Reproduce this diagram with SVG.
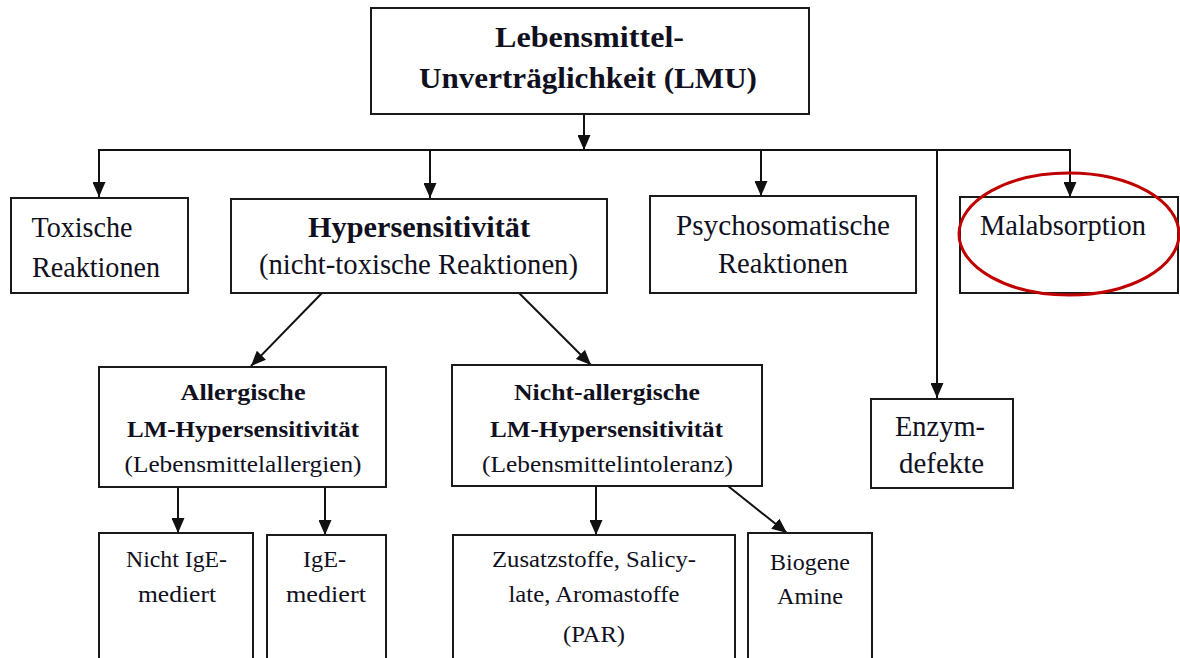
<svg xmlns="http://www.w3.org/2000/svg" width="1180" height="658" viewBox="0 0 1180 658">
<style>
.box{fill:#fff;stroke:#1a1a1a;stroke-width:2}
.t{font-family:"Liberation Serif","Times New Roman",serif;fill:#101020;text-anchor:middle}
.b{font-weight:bold}
.s27{font-size:29px}
.s22{font-size:23.5px}
.s21{font-size:22.5px}
.c{stroke:#111;stroke-width:2;fill:none}
</style>
<defs>
<marker id="ah" viewBox="0 0 15 13" refX="15" refY="6.5" markerWidth="15" markerHeight="13" markerUnits="userSpaceOnUse" orient="auto">
<path d="M0,0 L15,6.5 L0,13 z" fill="#111"/>
</marker>
</defs>
<rect width="1180" height="658" fill="#fff"/>
<g id="connectors">
<line class="c" x1="584" y1="114" x2="584" y2="150" marker-end="url(#ah)"/>
<line class="c" x1="98" y1="150" x2="1071" y2="150"/>
<line class="c" x1="99" y1="150" x2="99" y2="197" marker-end="url(#ah)"/>
<line class="c" x1="430" y1="150" x2="430" y2="198" marker-end="url(#ah)"/>
<line class="c" x1="761" y1="150" x2="761" y2="196" marker-end="url(#ah)"/>
<line class="c" x1="1070" y1="150" x2="1070" y2="197" marker-end="url(#ah)"/>
<line class="c" x1="937" y1="150" x2="937" y2="398" marker-end="url(#ah)"/>
<line class="c" x1="322" y1="293" x2="251" y2="366" marker-end="url(#ah)"/>
<line class="c" x1="519" y1="293" x2="591" y2="365" marker-end="url(#ah)"/>
<line class="c" x1="178" y1="487" x2="178" y2="533" marker-end="url(#ah)"/>
<line class="c" x1="325" y1="487" x2="325" y2="535" marker-end="url(#ah)"/>
<line class="c" x1="596" y1="486" x2="596" y2="535" marker-end="url(#ah)"/>
<line class="c" x1="728" y1="486" x2="787" y2="533" marker-end="url(#ah)"/>
</g>
<g id="lmu">
<rect class="box" x="371" y="8" width="438" height="106"/>
<text class="t b" font-size="30" x="589.5" y="47" textLength="189" lengthAdjust="spacingAndGlyphs">Lebensmittel-</text>
<text class="t b" font-size="30" x="588" y="88" textLength="338" lengthAdjust="spacingAndGlyphs">Unverträglichkeit (LMU)</text>
</g>
<g id="toxisch">
<rect class="box" x="11" y="198" width="177" height="95"/>
<text class="t s27" x="82" y="237" textLength="101" lengthAdjust="spacingAndGlyphs">Toxische</text>
<text class="t s27" x="96" y="277" textLength="128" lengthAdjust="spacingAndGlyphs">Reaktionen</text>
</g>
<g id="hyper">
<rect class="box" x="231" y="199" width="376" height="94"/>
<text class="t b s27" x="419" y="237" textLength="222" lengthAdjust="spacingAndGlyphs">Hypersensitivität</text>
<text class="t s27" x="418.5" y="274" textLength="319" lengthAdjust="spacingAndGlyphs">(nicht-toxische Reaktionen)</text>
</g>
<g id="psycho">
<rect class="box" x="650" y="196" width="266" height="97"/>
<text class="t s27" x="783" y="235" textLength="214" lengthAdjust="spacingAndGlyphs">Psychosomatische</text>
<text class="t s27" x="783" y="273" textLength="130" lengthAdjust="spacingAndGlyphs">Reaktionen</text>
</g>
<g id="malabsorption">
<rect class="box" x="960" y="197" width="218" height="96"/>
<text class="t s27" x="1063" y="235" textLength="166" lengthAdjust="spacingAndGlyphs">Malabsorption</text>
<ellipse cx="1069" cy="234" rx="110" ry="61" fill="none" stroke="#c00000" stroke-width="3"/>
</g>
<g id="enzym">
<rect class="box" x="871" y="399" width="142" height="89"/>
<text class="t s27" x="940" y="436" textLength="90" lengthAdjust="spacingAndGlyphs">Enzym-</text>
<text class="t s27" x="941.5" y="473" textLength="85" lengthAdjust="spacingAndGlyphs">defekte</text>
</g>
<g id="allergisch">
<rect class="box" x="99" y="367" width="287" height="120"/>
<text class="t b s22" x="243" y="400" textLength="125" lengthAdjust="spacingAndGlyphs">Allergische</text>
<text class="t b s22" x="243" y="437" textLength="232" lengthAdjust="spacingAndGlyphs">LM-Hypersensitivität</text>
<text class="t s22" x="243" y="472" textLength="237" lengthAdjust="spacingAndGlyphs">(Lebensmittelallergien)</text>
</g>
<g id="nichtallergisch">
<rect class="box" x="452" y="365" width="310" height="121"/>
<text class="t b s22" x="607" y="400" textLength="186" lengthAdjust="spacingAndGlyphs">Nicht-allergische</text>
<text class="t b s22" x="606.5" y="437" textLength="233" lengthAdjust="spacingAndGlyphs">LM-Hypersensitivität</text>
<text class="t s22" x="607.5" y="472" textLength="251" lengthAdjust="spacingAndGlyphs">(Lebensmittelintoleranz)</text>
</g>
<g id="nichtige">
<rect class="box" x="99" y="533" width="154" height="140"/>
<text class="t s21" x="176.5" y="567" textLength="101" lengthAdjust="spacingAndGlyphs">Nicht IgE-</text>
<text class="t s21" x="177" y="602" textLength="78" lengthAdjust="spacingAndGlyphs">mediert</text>
</g>
<g id="ige">
<rect class="box" x="267" y="535" width="119" height="140"/>
<text class="t s21" x="324.5" y="567" textLength="43" lengthAdjust="spacingAndGlyphs">IgE-</text>
<text class="t s21" x="326" y="602" textLength="80" lengthAdjust="spacingAndGlyphs">mediert</text>
</g>
<g id="zusatzstoffe">
<rect class="box" x="453" y="535" width="282" height="140"/>
<text class="t s21" x="594" y="567" textLength="204" lengthAdjust="spacingAndGlyphs">Zusatzstoffe, Salicy-</text>
<text class="t s21" x="594" y="602" textLength="171" lengthAdjust="spacingAndGlyphs">late, Aromastoffe</text>
<text class="t s21" x="594" y="642" textLength="62" lengthAdjust="spacingAndGlyphs">(PAR)</text>
</g>
<g id="biogene">
<rect class="box" x="748" y="533" width="124" height="140"/>
<text class="t s21" x="810" y="570" textLength="80" lengthAdjust="spacingAndGlyphs">Biogene</text>
<text class="t s21" x="810" y="604" textLength="66" lengthAdjust="spacingAndGlyphs">Amine</text>
</g>
</svg>
